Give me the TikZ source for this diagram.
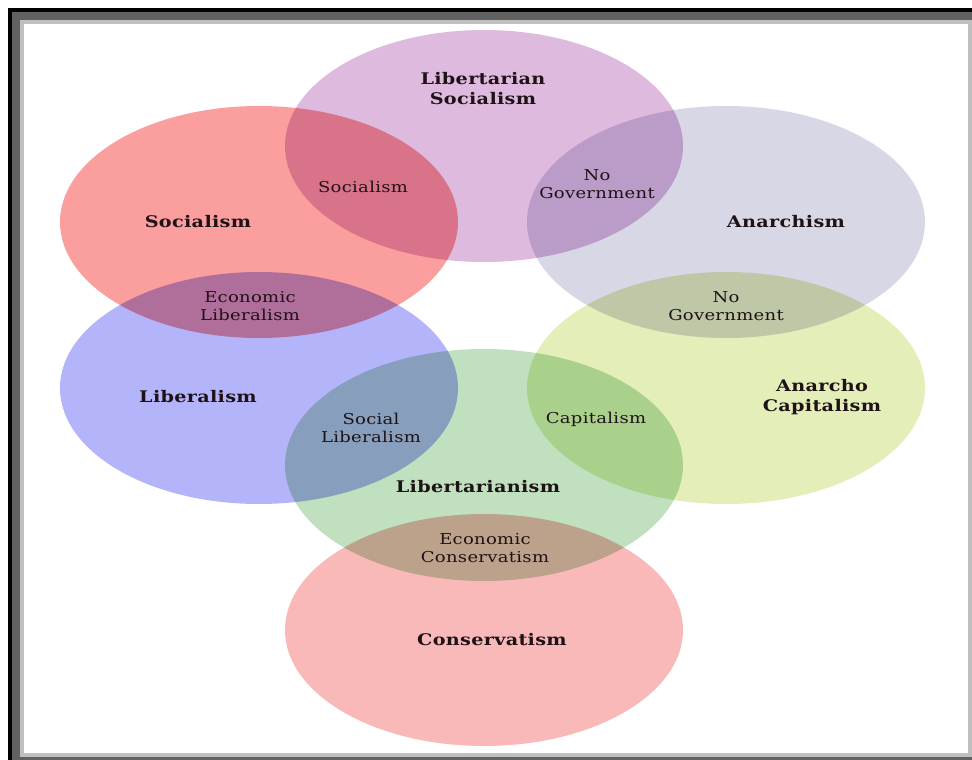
\documentclass[tikz,border=0pt]{standalone}
\usepackage{fontspec}
\setmainfont{DejaVu Serif}[FakeStretch=1.2, LetterSpace=2]
\usepackage{tikz}

\definecolor{cSoc}{RGB}{250,158,158}
\definecolor{cLibSoc}{RGB}{222,186,222}
\definecolor{cAnar}{RGB}{215,215,230}
\definecolor{cLib}{RGB}{180,180,250}
\definecolor{cAnCap}{RGB}{227,238,185}
\definecolor{cLbt}{RGB}{192,224,192}
\definecolor{cCons}{RGB}{250,185,185}
\definecolor{ink}{RGB}{30,18,22}

\tikzset{
	venn/.style={fill=#1},
	bigname/.style={font=\fontsize{16}{20}\selectfont\bfseries, align=center, text=ink, inner sep=0pt},
	smallname/.style={font=\fontsize{15}{18.5}\selectfont, align=center, text=ink, inner sep=0pt}
}

\begin{document}
\begin{tikzpicture}[x=1pt,y=-1pt]
		\useasboundingbox (0,0) rectangle (972,760);
		\begin{scope}
			\clip (0,0) rectangle (972,760);
			\fill[white] (0,0) rectangle (972,760);
			\fill[black] (8,8) rectangle (990,790);
			\fill[black!62] (12,12) rectangle (990,790);
			\fill[black!25] (20,20) rectangle (972,757);
			\fill[white] (24,24) rectangle (968,753);
		\end{scope}
		
		% the seven sets
		\begin{scope}[blend mode=multiply]
			\fill[venn=cSoc] (259,222) ellipse (199 and 116);
			\fill[venn=cLibSoc] (484,146) ellipse (199 and 116);
			\fill[venn=cAnar] (726,222) ellipse (199 and 116);
			\fill[venn=cLib] (259,388) ellipse (199 and 116);
			\fill[venn=cAnCap] (726,388) ellipse (199 and 116);
			\fill[venn=cLbt] (484,465) ellipse (199 and 116);
			\fill[venn=cCons] (484,630) ellipse (199 and 116);
		\end{scope}
		
		% names
		\node[bigname] (libsoc) at (483,89) {Libertarian\\Socialism};
		\node[bigname] (soc) at (198,222) {Socialism};
		\node[bigname] (anar) at (786,222) {Anarchism};
		\node[bigname] (lib) at (198,397) {Liberalism};
		\node[bigname] (ancap) at (822,397) {Anarcho\\Capitalism};
		\node[bigname] (lbt) at (478,487) {Libertarianism};
		\node[bigname] (cons) at (492,640) {Conservatism};
		
		% overlaps
		\node[smallname] (socx) at (363,187) {Socialism};
		\node[smallname] (nogov1) at (597,184) {No\\Government};
		\node[smallname] (econlib) at (250,306) {Economic\\Liberalism};
		\node[smallname] (nogov2) at (726,306) {No\\Government};
		\node[smallname] (soclib) at (371,428) {Social\\Liberalism};
		\node[smallname] (cap) at (596,419) {Capitalism};
		\node[smallname] (econcons) at (485,548) {Economic\\Conservatism};
		
	\end{tikzpicture}
\end{document}
